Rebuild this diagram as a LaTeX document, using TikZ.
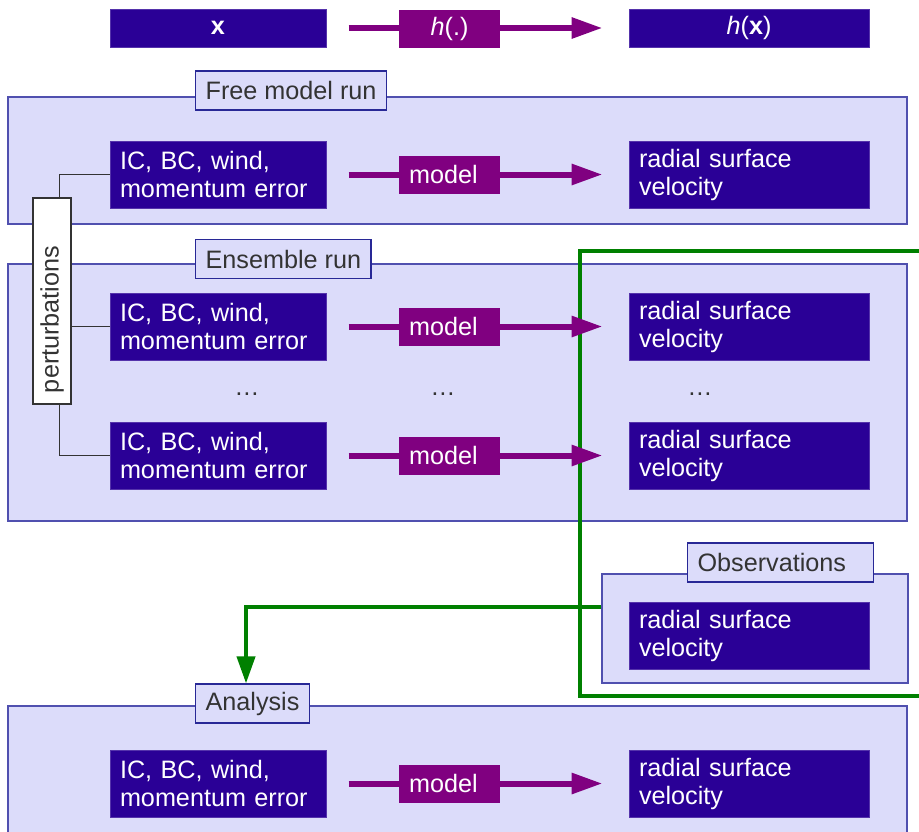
\documentclass[tikz,border=0pt]{standalone}
\usepackage{fontspec}
\setmainfont{Liberation Sans}
\usetikzlibrary{arrows.meta}
\definecolor{dblue}{RGB}{42,0,150}
\definecolor{lilac}{RGB}{220,220,250}
\definecolor{frameblue}{RGB}{80,80,175}
\definecolor{labelblue}{RGB}{40,40,150}
\definecolor{mpurple}{RGB}{128,0,128}
\definecolor{dgreen}{RGB}{0,128,0}
\definecolor{dgray}{RGB}{51,51,51}

\begin{document}
\begin{tikzpicture}[x=0.5pt,y=-0.5pt,
  every node/.style={font=\fontsize{12.6}{14}\selectfont,inner sep=0pt},
  stage/.style={draw=frameblue,fill=lilac,line width=0.6pt,minimum width=449.5pt},
  stagelabel/.style={draw=labelblue,fill=lilac,text=dgray,anchor=west,inner xsep=5pt,minimum height=19.5pt,line width=0.6pt},
  topbox/.style={fill=dblue,draw=dblue!80!white,text=white,minimum height=19pt,line width=0.5pt},
  inbox/.style={fill=dblue,draw=dblue!80!white,text=white,text width=98pt,align=left,inner xsep=5pt,minimum height=33.5pt,line width=0.5pt},
  outbox/.style={inbox,text width=110pt},
  runbox/.style={fill=mpurple,text=white,text width=40.5pt,align=left,inner xsep=5pt,minimum height=19pt},
  flow/.style={draw=mpurple,line width=3pt,shorten <=11pt,shorten >=13pt,-{Triangle[length=15.5pt,width=10pt]}},
  feed/.style={draw=dgreen,line width=2pt},
  wire/.style={draw=dgray,line width=0.5pt},
  pertbox/.style={draw=dgray,fill=white,text=dgray,rotate=90,text width=92pt,align=left,inner xsep=5.5pt,minimum height=19pt,line width=0.6pt}
]
\useasboundingbox (0,0) rectangle (919,831);
\clip (0,0) rectangle (919,831);

% operator row
\node[topbox,minimum width=108pt] (x) at (218,28) {\textbf{x}};
\node[topbox,minimum width=120pt] (hx) at (749,28) {\textit{h}(\textbf{x})};
\draw[flow] (x) -- (hx);
\node[runbox,align=center] (h) at (449.5,29) {\textit{h}(.)};

% the stages
\node[stage,minimum height=63.5pt] (free) at (457.5,160.5) {};
\node[stage,minimum height=128.5pt] (ens) at (457.5,392.5) {};
\node[stage,minimum width=153pt,minimum height=54.5pt] (obs) at (755,628.5) {};
\node[stage,minimum height=80pt] (ana) at (457.5,786) {};
\node[stagelabel] (freelabel) at (195,90.5) {Free model run};
\node[stagelabel] (enslabel) at (195,259) {Ensemble run};
\node[stagelabel,minimum width=93pt,align=left,text width=83pt] (obslabel) at (687,562.5) {Observations};
\node[stagelabel] (analabel) at (195,703.5) {Analysis};

% ensemble bracket and feed to the analysis
\coordinate (gtop) at (919,251);
\coordinate (gbot) at (919,696);
\draw[feed] (gtop) -- (580,251) |- (gbot);
\draw[feed,-{Triangle[length=13.5pt,width=9pt]}] ([yshift=10.75pt]obs.west) -| ([xshift=-3.25pt]analabel.north);

% model runs
\foreach \y/\n in {174.5/free,326.5/a,455.5/b,783.5/ana} {
    \node[inbox] (ic\n) at (218,\y) {IC, BC, wind,\\momentum error};
    \node[outbox] (rs\n) at (749,\y) {radial surface\\velocity};
    \draw[flow] (ic\n) -- (rs\n);
    \node[runbox] (m\n) at (449.5,\y) {model};
}
\node[outbox] (rsobs) at (749,635.5) {radial surface\\velocity};

\foreach \x/\n in {247/1,443/2,700/3} {
    \node[text=dgray] (dots\n) at (\x,394) {\ldots};
}

% perturbations
\node[pertbox] (pert) at (52,301) {perturbations};
\draw[wire] ([xshift=3.5pt]pert.east) |- (icfree.west);
\draw[wire] (pert.south |- ica.west) -- (ica.west);
\draw[wire] ([xshift=3.5pt]pert.west) |- (icb.west);

\end{tikzpicture}
\end{document}
